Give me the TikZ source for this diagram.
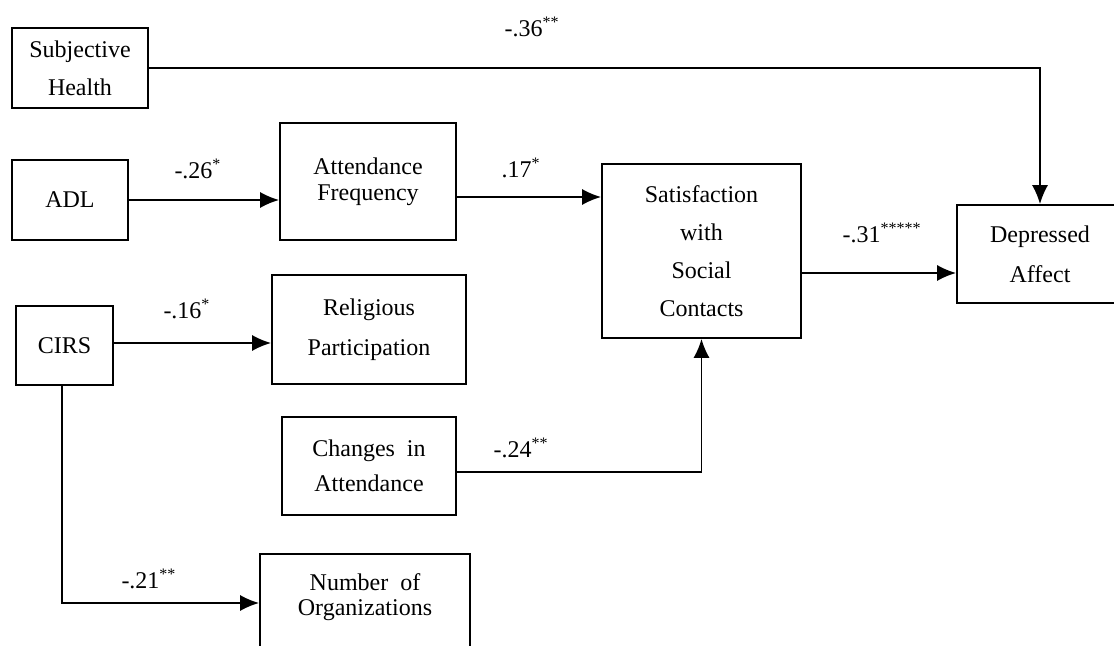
\documentclass[tikz,border=0pt]{standalone}
\usepackage{fontspec}
\setmainfont{Liberation Serif}
\usepackage{tikz}
\usetikzlibrary{arrows.meta}

\tikzset{
  var/.style={draw, line width=1.05pt, rectangle, align=center, inner sep=0pt},
  coef/.style={inner sep=0pt, font=\fontsize{12}{14}\selectfont},
  link/.style={line width=0.7pt, -{Latex[length=3.3mm,width=2.8mm]}}
}

\begin{document}
\begin{tikzpicture}[x=0.5pt,y=-0.5pt]
        \useasboundingbox (0,0) rectangle (1114,646);

        % variables
        \node[var, minimum width=68pt, minimum height=40pt, font=\fontsize{12}{19}\selectfont] (sh) at (80,68) {Subjective\\Health};
        \node[var, minimum width=58pt, minimum height=40pt, font=\fontsize{12}{14}\selectfont] (adl) at (70,200) {ADL};
        \node[var, minimum width=88pt, minimum height=58.5pt, font=\fontsize{12}{13}\selectfont] (af) at (368,181.5) {Attendance\\Frequency};
        \node[var, minimum width=99.5pt, minimum height=87pt, font=\fontsize{12}{19}\selectfont] (ssc) at (701.5,251) {Satisfaction\\with\\Social\\Contacts};
        \node[var, minimum width=83pt, minimum height=49pt, font=\fontsize{12}{20}\selectfont] (da) at (1040,254) {Depressed\\Affect};
        \node[var, minimum width=48.5pt, minimum height=39.5pt, font=\fontsize{12}{14}\selectfont] (cirs) at (64.5,345.5) {CIRS};
        \node[var, minimum width=97pt, minimum height=54.5pt, font=\fontsize{12}{20}\selectfont] (rp) at (369,329.5) {Religious\\Participation};
        \node[var, minimum width=87pt, minimum height=49pt, font=\fontsize{12}{17.5}\selectfont] (cia) at (369,466) {Changes~~in\\Attendance};
        \node[var, anchor=north, minimum width=105pt, inner ysep=10pt, text depth=50pt, font=\fontsize{12}{12.5}\selectfont] (noo) at (365,553) {Number~~of\\Organizations};

        % paths
        \draw[link] (sh.east) -| (da.north);
        \draw[link] (adl.east) -- (adl.east -| af.west);
        \draw[link] ([yshift=-7.75pt]af.east) -- ([yshift=-7.75pt]af.east -| ssc.west);
        \draw[link] ([yshift=-11pt]ssc.east) -- ([yshift=-11pt]ssc.east -| da.west);
        \draw[link] ([yshift=1.25pt]cirs.east) -- ([yshift=1.25pt]cirs.east -| rp.west);
        \draw[link] ([yshift=-3pt]cia.east) -| (ssc.south);
        \draw[link] ([xshift=-1.25pt]cirs.south) |- ([yshift=-25pt]noo.north west);

        % coefficients
        \node[coef] (c36) at (532,27) {-.36\textsuperscript{**}};
        \node[coef] (c26) at (198,169) {-.26\textsuperscript{*}};
        \node[coef] (c17) at (521,168) {.17\textsuperscript{*}};
        \node[coef] (c31) at (882,233) {-.31\textsuperscript{*****}};
        \node[coef] (c16) at (187,309) {-.16\textsuperscript{*}};
        \node[coef] (c24) at (521,448) {-.24\textsuperscript{**}};
        \node[coef] (c21) at (149,579) {-.21\textsuperscript{**}};
\end{tikzpicture}
\end{document}
